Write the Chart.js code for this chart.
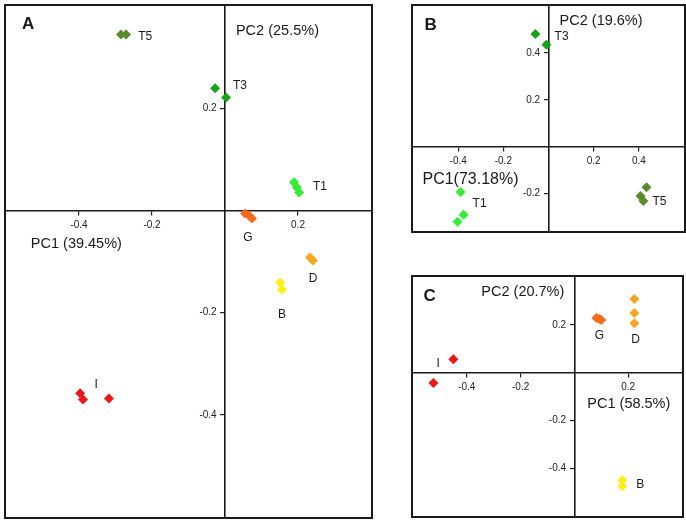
<!DOCTYPE html>
<html>
<head>
<meta charset="utf-8">
<script src="https://cdn.jsdelivr.net/npm/chart.js@4/dist/chart.umd.min.js"></script>
<style>
  body { margin: 0; background: #fff; width: 686px; height: 523px; position: relative; overflow: hidden; }
  .panel { position: absolute; box-sizing: border-box; border: 2px solid #1a1a1a; }
  .panel canvas { display: block; }
</style>
</head>
<body>
<div class="panel" style="left:4px;top:4px;width:369px;height:515px"><canvas id="cA" width="365" height="511"></canvas></div>
<div class="panel" style="left:411px;top:4px;width:275px;height:229px"><canvas id="cB" width="271" height="225"></canvas></div>
<div class="panel" style="left:411px;top:275px;width:273px;height:243px"><canvas id="cC" width="269" height="239"></canvas></div>
<script>
'use strict';

// ── 데이터 ─────────────────────────────────────────────────────

var COLORS = { T5: '#5b8a2c', T3: '#16a316', T1: '#33ee33', G: '#fa6a1c', D: '#f8a622', B: '#fcef14', I: '#ee1515' };

// panel A
var groupsA = ['T5', 'T3', 'T1', 'G', 'D', 'B', 'I'];
var pc1A = [[-0.285, -0.271], [-0.027, 0.003], [0.189, 0.197, 0.203], [0.055, 0.066, 0.074], [0.233, 0.241], [0.151, 0.156], [-0.397, -0.389, -0.318]];
var pc2A = [[0.344, 0.344], [0.239, 0.221], [0.055, 0.045, 0.035], [-0.006, -0.010, -0.016], [-0.092, -0.098], [-0.141, -0.155], [-0.358, -0.370, -0.368]];
var ticksAx = [-0.4, -0.2, 0.2];
var ticksAy = [0.2, -0.2, -0.4];

// panel B
var groupsB = ['T3', 'T1', 'T5'];
var pc1B = [[-0.058, -0.009], [-0.389, -0.376, -0.403], [0.434, 0.407, 0.420]];
var pc2B = [[0.481, 0.435], [-0.194, -0.291, -0.321], [-0.173, -0.211, -0.232]];
var ticksBx = [-0.4, -0.2, 0.2, 0.4];
var ticksBy = [0.4, 0.2, -0.2];

// panel C
var groupsC = ['I', 'G', 'D', 'B'];
var pc1C = [[-0.450, -0.524], [0.082, 0.093, 0.100], [0.223, 0.223, 0.223], [0.178, 0.178]];
var pc2C = [[0.056, -0.044], [0.228, 0.224, 0.220], [0.308, 0.249, 0.207], [-0.450, -0.475]];
var ticksCx = [-0.4, -0.2, 0.2];
var ticksCy = [0.2, -0.2, -0.4];

// ── 차트 ────────────────────────────────────────────────────────

var FONT = '"Liberation Sans", Arial, sans-serif';

function buildDatasets(groups, xs, ys) {
  return groups.map(function (g, i) {
    return {
      label: g,
      data: xs[i].map(function (v, j) { return { x: v, y: ys[i][j] }; }),
      pointStyle: 'rectRot',
      pointRadius: 5,
      pointBorderWidth: 0,
      backgroundColor: COLORS[g],
      borderColor: COLORS[g],
      clip: false
    };
  });
}

function axis(isX, min, max, tickVals) {
  return {
    type: 'linear',
    min: min,
    max: max,
    position: isX ? { y: 0 } : { x: 0 },
    afterBuildTicks: function (s) { s.ticks = tickVals.map(function (v) { return { value: v }; }); },
    afterFit: function (s) {
      if (isX) s.height = 0; else s.width = 0;
      s.paddingLeft = 0; s.paddingRight = 0; s.paddingTop = 0; s.paddingBottom = 0;
    },
    grid: { drawOnChartArea: false, drawTicks: true, tickLength: 4, color: '#222', lineWidth: 1.2 },
    border: { display: true, color: '#1a1a1a', width: 1.6 },
    ticks: {
      autoSkip: false, maxRotation: 0, padding: 5, color: '#222',
      font: { family: FONT, size: 10 },
      // y 라벨은 축에 붙지 않도록 뒤에 공백
      callback: function (v) { return Number(v).toFixed(1) + (isX ? '' : '\u00a0\u00a0\u00a0'); }
    }
  };
}

var notesPlugin = {
  id: 'notes',
  afterDatasetsDraw: function (chart, args, opts) {
    var ctx = chart.ctx, sx = chart.scales.x, sy = chart.scales.y;
    ctx.save();
    ctx.fillStyle = '#1a1a1a';
    ctx.textBaseline = 'middle';
    (opts.items || []).forEach(function (n) {
      ctx.font = n.font || ('12px ' + FONT);
      ctx.textAlign = n.align || 'left';
      ctx.fillText(n.text, sx.getPixelForValue(n.x), sy.getPixelForValue(n.y));
    });
    ctx.restore();
  }
};

function makeChart(id, groups, xs, ys, xr, yr, tx, ty, notes) {
  return new Chart(document.getElementById(id).getContext('2d'), {
    type: 'scatter',
    data: { datasets: buildDatasets(groups, xs, ys) },
    plugins: [notesPlugin],
    options: {
      responsive: false,
      animation: false,
      layout: { padding: 0, autoPadding: false },
      plugins: { legend: { display: false }, tooltip: { enabled: false }, notes: { items: notes } },
      scales: { x: axis(true, xr[0], xr[1], tx), y: axis(false, yr[0], yr[1], ty) }
    }
  });
}

var big = '14.5px ' + FONT, letter = 'bold 17px ' + FONT;

makeChart('cA', groupsA, pc1A, pc2A, [-0.6, 0.4], [-0.6, 0.4], ticksAx, ticksAy, [
  { text: 'A', x: -0.556, y: 0.364, font: letter },
  { text: 'PC2 (25.5%)', x: 0.03, y: 0.352, font: big },
  { text: 'PC1 (39.45%)', x: -0.532, y: -0.065, font: big },
  { text: 'T5', x: -0.238, y: 0.340 },
  { text: 'T3', x: 0.022, y: 0.245 },
  { text: 'T1', x: 0.241, y: 0.047 },
  { text: 'G', x: 0.063, y: -0.053, align: 'center' },
  { text: 'D', x: 0.241, y: -0.133, align: 'center' },
  { text: 'B', x: 0.156, y: -0.204, align: 'center' },
  { text: 'I', x: -0.353, y: -0.342, align: 'center' }
]);

makeChart('cB', groupsB, pc1B, pc2B, [-0.6, 0.6], [-0.36, 0.6], ticksBx, ticksBy, [
  { text: 'B', x: -0.549, y: 0.519, font: letter },
  { text: 'PC2 (19.6%)', x: 0.049, y: 0.536, font: big },
  { text: 'PC1(73.18%)', x: -0.558, y: -0.139, font: '16px ' + FONT },
  { text: 'T3', x: 0.027, y: 0.468 },
  { text: 'T1', x: -0.336, y: -0.245 },
  { text: 'T5', x: 0.460, y: -0.236 }
]);

makeChart('cC', groupsC, pc1C, pc2C, [-0.6, 0.4], [-0.6, 0.4], ticksCx, ticksCy, [
  { text: 'C', x: -0.561, y: 0.320, font: letter },
  { text: 'PC2 (20.7%)', x: -0.346, y: 0.337, font: big },
  { text: 'PC1 (58.5%)', x: 0.048, y: -0.132, font: big },
  { text: 'I', x: -0.506, y: 0.036, align: 'center' },
  { text: 'G', x: 0.093, y: 0.153, align: 'center' },
  { text: 'D', x: 0.227, y: 0.136, align: 'center' },
  { text: 'B', x: 0.230, y: -0.467 }
]);
</script>
</body>
</html>
